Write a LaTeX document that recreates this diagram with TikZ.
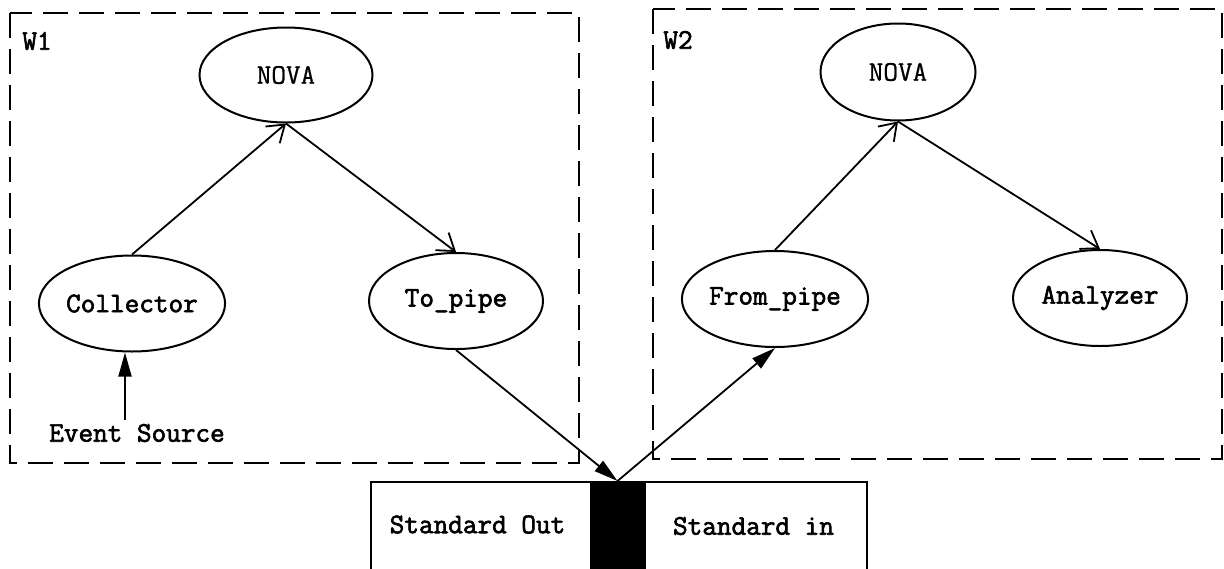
\documentclass[tikz,border=0pt]{standalone}
\usepackage{fontspec}
\newfontfamily\courb{Latin Modern Mono}[FakeBold=2.2]
\newfontfamily\courm{Latin Modern Mono}[FakeBold=0.8]
\usetikzlibrary{shapes.geometric,arrows.meta}
\begin{document}
\begin{tikzpicture}[x=0.5pt,y=-0.5pt,
  font=\fontsize{14.2}{16}\selectfont\courb,
  proc/.style={ellipse, draw, line width=1pt, inner sep=0pt, minimum width=87pt, minimum height=48pt},
  nova/.style={proc, font=\fontsize{14.2}{16}\selectfont\courm},
  group/.style={draw, line width=1pt, dash pattern=on 12.5pt off 5.5pt},
  openarr/.style={line width=0.9pt, -{Straight Barb[length=8pt,width=11pt]}},
  fillarr/.style={line width=0.9pt, -{Triangle[length=12pt,width=6.5pt]}},
  lbl/.style={inner sep=2pt}]
\clip (0,0) rectangle (1224,568);
\useasboundingbox (0,0) rectangle (1224,568);
% groups
\draw[group] (10,13) rectangle (579,463);
\draw[group] (653,9) rectangle (1222,459);
\node[anchor=west, inner sep=0pt] (w1) at (22,41) {W1};
\node[anchor=west, inner sep=0pt] (w2) at (663,40) {W2};
% processes
\node[nova, minimum width=86.5pt, minimum height=47.5pt] (nova1) at (286,75) {NOVA};
\node[proc] (col) at (132,303.5) {Collector};
\node[proc] (top) at (456,301) {To\_pipe};
\node[nova, minimum width=77.5pt, minimum height=48.5pt] (nova2) at (898,72) {NOVA};
\node[proc] (fp) at (775,299) {From\_pipe};
\node[proc] (an) at (1100,298) {Analyzer};
\node[lbl] (es) at (137,433) {Event Source};
% pipe box
\node[draw, line width=1pt, inner sep=0pt, anchor=north west, minimum width=248pt, minimum height=60pt] (stdbox) at (370,481) {};
\node[draw, fill=black, line width=0.5pt, inner sep=0pt, anchor=north, minimum width=27.5pt, minimum height=60pt] (blk) at (617.5,481) {};
\node[lbl] (so) at (477.5,524.5) {Standard Out};
\node[lbl] (si) at (753.5,526) {Standard in};
% connectors
\draw[openarr] (col.north) -- (nova1.south);
\draw[openarr] (nova1.south) -- (top.north);
\draw[openarr] (fp.north) -- (nova2.south);
\draw[openarr] (nova2.south) -- (an.north);
\draw[fillarr] (top.south) -- (blk.north);
\draw[fillarr] (blk.north) -- (fp.south);
\draw[fillarr] ([xshift=-3.5pt]col.south |- es.north) -- ([xshift=-3.5pt]col.south);
\end{tikzpicture}
\end{document}
